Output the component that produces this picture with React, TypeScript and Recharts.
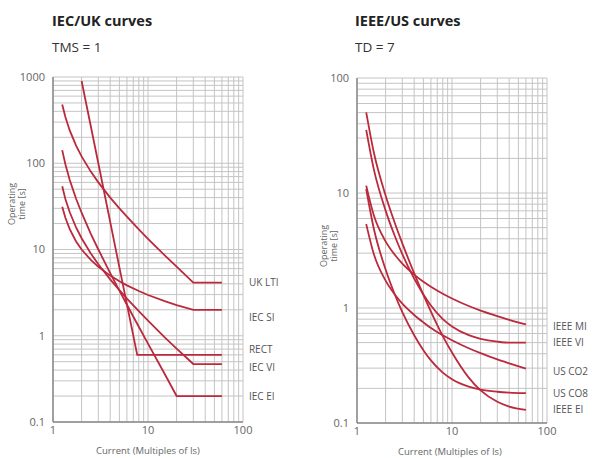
import React from 'react';
import { LineChart, Line, XAxis, YAxis, CartesianGrid } from 'recharts';

// Operating time [s] against current (multiples of Is)

// IEC/UK, TMS = 1
const ukLtiCurrent = [1.25, 1.35, 1.5, 1.75, 2, 2.5, 3, 4, 5, 6, 8, 10, 15, 20, 30, 60];
const ukLtiTime = [480, 343, 240, 160, 120, 80, 60, 40, 30, 24, 17.1, 13.3, 8.57, 6.32, 4.14, 4.14];

const iecSiCurrent = [1.25, 1.35, 1.5, 1.75, 2, 2.5, 3, 4, 5, 6, 8, 10, 15, 20, 30, 60];
const iecSiTime = [31.3, 23.3, 17.2, 12.4, 10.0, 7.57, 6.3, 4.98, 4.28, 3.84, 3.3, 2.97, 2.52, 2.27, 1.99, 1.99];

const rectCurrent = [2, 3, 5, 7.7, 60];
const rectTime = [900, 100, 6.2, 0.6, 0.6];

const iecViCurrent = [1.25, 1.35, 1.5, 1.75, 2, 2.5, 3, 4, 5, 6, 8, 10, 15, 20, 30, 60];
const iecViTime = [54, 38.6, 27, 18, 13.5, 9.0, 6.75, 4.5, 3.38, 2.7, 1.93, 1.5, 0.96, 0.71, 0.47, 0.47];

const iecEiCurrent = [1.25, 1.35, 1.5, 1.75, 2, 2.5, 3, 4, 5, 6, 8, 10, 15, 20, 60];
const iecEiTime = [142, 97.3, 64, 38.8, 26.7, 15.2, 10, 5.33, 3.33, 2.29, 1.27, 0.81, 0.36, 0.2, 0.2];

// IEEE/US, TD = 7
const usCurrent = [1.25, 1.5, 2, 2.5, 3, 4, 5, 6, 8, 10, 15, 20, 30, 40, 60];
const ieeeMiTime = [11.6, 6.44, 3.8, 2.9, 2.43, 1.95, 1.69, 1.53, 1.33, 1.21, 1.04, 0.95, 0.85, 0.79, 0.72];
const ieeeViTime = [35.4, 16.2, 7.03, 4.23, 2.94, 1.8, 1.31, 1.05, 0.8, 0.69, 0.58, 0.54, 0.51, 0.5, 0.5];
const usCo2Time = [5.37, 2.96, 1.73, 1.31, 1.09, 0.87, 0.75, 0.67, 0.58, 0.525, 0.447, 0.405, 0.357, 0.33, 0.297];
const usCo8Time = [10.8, 4.94, 2.16, 1.31, 0.92, 0.58, 0.43, 0.35, 0.274, 0.24, 0.207, 0.195, 0.187, 0.184, 0.182];
const ieeeEiTime = [50.3, 22.7, 9.52, 5.49, 3.65, 2.0, 1.3, 0.93, 0.57, 0.41, 0.248, 0.192, 0.153, 0.139, 0.13];

const xDecades = [1, 10, 100];
const leftYDecades = [0.1, 1, 10, 100, 1000];
const rightYDecades = [0.1, 1, 10, 100];

const RED = '#bb2a3c';

type Series = { key: string; name: string; current: number[]; time: number[]; dy: number };

const leftSeries: Series[] = [
  { key: 'ukLti', name: 'UK LTI', current: ukLtiCurrent, time: ukLtiTime, dy: 0 },
  { key: 'iecSi', name: 'IEC SI', current: iecSiCurrent, time: iecSiTime, dy: 8 },
  { key: 'rect', name: 'RECT', current: rectCurrent, time: rectTime, dy: -5 },
  { key: 'iecVi', name: 'IEC VI', current: iecViCurrent, time: iecViTime, dy: 3 },
  { key: 'iecEi', name: 'IEC EI', current: iecEiCurrent, time: iecEiTime, dy: 0 },
];

const rightSeries: Series[] = [
  { key: 'ieeeMi', name: 'IEEE MI', current: usCurrent, time: ieeeMiTime, dy: 2 },
  { key: 'ieeeVi', name: 'IEEE VI', current: usCurrent, time: ieeeViTime, dy: 0 },
  { key: 'usCo2', name: 'US CO2', current: usCurrent, time: usCo2Time, dy: 3 },
  { key: 'usCo8', name: 'US CO8', current: usCurrent, time: usCo8Time, dy: 0 },
  { key: 'ieeeEi', name: 'IEEE EI', current: usCurrent, time: ieeeEiTime, dy: 0 },
];

// 1,2..9 per decade for the log grid
const logTicks = (decades: number[]) => {
  const out: number[] = [];
  decades.forEach((d, i) => {
    if (i === decades.length - 1) {
      out.push(d);
      return;
    }
    for (let k = 1; k < 10; k++) out.push(+(d * k).toPrecision(3));
  });
  return out;
};

const buildRows = (series: Series[]) => {
  const xs = Array.from(new Set(series.flatMap((s) => s.current))).sort((a, b) => a - b);
  return xs.map((x) => {
    const row: Record<string, number | null> = { current: x };
    series.forEach((s) => {
      const i = s.current.indexOf(x);
      row[s.key] = i >= 0 ? s.time[i] : null;
    });
    return row;
  });
};

const endLabel = (s: Series) => (props: any) => {
  const { cx, cy, payload, index } = props;
  const lastX = s.current[s.current.length - 1];
  if (cy == null || !payload || payload.current !== lastX) return <g key={`${s.key}-${index}`} />;
  return (
    <text
      key={`${s.key}-${index}`}
      x={cx + 27}
      y={cy + s.dy}
      dy="0.35em"
      fontSize={10}
      fill="#555"
      stroke="none"
      fontFamily='"Open Sans", sans-serif'
    >
      {s.name}
    </text>
  );
};

const fmt = (decades: number[]) => (v: number) => (decades.some((d) => Math.abs(d - v) < 1e-9) ? String(v) : '');

type PanelProps = {
  series: Series[];
  yDecades: number[];
  left: number;
  width: number;
  margin: { top: number; right: number; bottom: number; left: number };
  curve: 'linear' | 'monotone';
};

const Panel = ({ series, yDecades, left, width, margin, curve }: PanelProps) => {
  const rows = buildRows(series);
  return (
    <div style={{ position: 'absolute', left, top: 0 }}>
      <LineChart width={width} height={458} data={rows} margin={margin}>
        <CartesianGrid stroke="#c4c4c4" strokeWidth={1} />
        <XAxis
          dataKey="current"
          type="number"
          scale="log"
          domain={[1, 100]}
          ticks={logTicks(xDecades)}
          interval={0}
          tickFormatter={fmt(xDecades)}
          tickLine={false}
          tickSize={2}
          tickMargin={2}
          height={30}
          axisLine={{ stroke: '#8a8a8a', strokeWidth: 1.5 }}
          tick={{ fill: '#666', fontSize: 11 }}
        />
        <YAxis
          type="number"
          scale="log"
          domain={[yDecades[0], yDecades[yDecades.length - 1]]}
          ticks={logTicks(yDecades)}
          interval={0}
          tickFormatter={fmt(yDecades)}
          tickLine={false}
          width={45}
          axisLine={{ stroke: '#8a8a8a', strokeWidth: 1.5 }}
          tick={{ fill: '#666', fontSize: 11 }}
        />
        {series.map((s) => (
          <Line
            key={s.key}
            dataKey={s.key}
            type={curve}
            stroke={RED}
            strokeWidth={1.8}
            connectNulls
            dot={endLabel(s)}
            activeDot={false}
            isAnimationActive={false}
          />
        ))}
      </LineChart>
    </div>
  );
};

const abs = (x: number, y: number, extra: React.CSSProperties = {}): React.CSSProperties => ({
  position: 'absolute',
  left: x,
  top: y,
  whiteSpace: 'nowrap',
  ...extra,
});

const YLabel = ({ cx, cy }: { cx: number; cy: number }) => (
  <div
    style={abs(cx - 30, cy - 12, {
      width: 60,
      height: 24,
      transform: 'rotate(-90deg)',
      textAlign: 'center',
      fontSize: 9,
      lineHeight: '10px',
      color: '#666',
    })}
  >
    Operating
    <br />
    time [s]
  </div>
);

const XLabel = ({ cx, cy }: { cx: number; cy: number }) => (
  <div style={abs(cx - 80, cy - 7, { width: 160, textAlign: 'center', fontSize: 9.5, lineHeight: '14px', color: '#666' })}>
    Current (Multiples of Is)
  </div>
);

export default function App() {
  return (
    <div
      style={{
        position: 'absolute',
        left: 0,
        top: 0,
        width: 596,
        height: 458,
        background: '#fff',
        fontFamily: '"Open Sans", sans-serif',
        overflow: 'hidden',
      }}
    >
      <div style={abs(52, 12, { fontSize: 14.5, fontWeight: 700, color: '#222', lineHeight: '18px' })}>IEC/UK curves</div>
      <div style={abs(52, 38, { fontSize: 13.5, color: '#333', lineHeight: '18px' })}>TMS = 1</div>
      <div style={abs(355, 12, { fontSize: 14.5, fontWeight: 700, color: '#222', lineHeight: '18px' })}>IEEE/US curves</div>
      <div style={abs(355, 38, { fontSize: 13.5, color: '#333', lineHeight: '18px' })}>TD = 7</div>

      <Panel
        series={leftSeries}
        yDecades={leftYDecades}
        left={0}
        width={300}
        margin={{ top: 77, right: 57, bottom: 6, left: 8 }}
        curve="linear"
      />
      <Panel
        series={rightSeries}
        yDecades={rightYDecades}
        left={300}
        width={296}
        margin={{ top: 78, right: 49, bottom: 5, left: 12 }}
        curve="monotone"
      />

      <YLabel cx={19} cy={204} />
      <YLabel cx={331} cy={246} />
      <XLabel cx={148} cy={451} />
      <XLabel cx={450} cy={452} />
    </div>
  );
}
